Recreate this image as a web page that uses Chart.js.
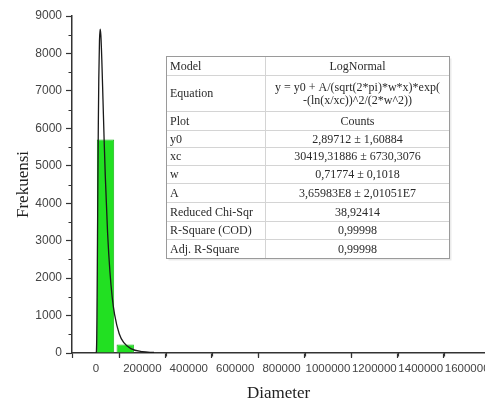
<!DOCTYPE html>
<html>
<head>
<meta charset="utf-8">
<script src="https://cdn.jsdelivr.net/npm/chart.js@4.4.1/dist/chart.umd.min.js"></script>
<style>
  html, body { margin: 0; padding: 0; background: #ffffff; }
  #c { display: block; }
</style>
</head>
<body>
<canvas id="c" width="485" height="402"></canvas>
<script>
// ---- data ----
const binCenters = [41000, 126000];
const binCounts = [5700, 230];

const fitX = [1000, 2000, 3000, 4000, 5000, 6000, 7000, 8000, 10000, 12000, 15000, 18000, 21000, 25000, 30000, 35000, 40000, 50000, 60000, 70000, 80000, 100000, 120000, 150000, 200000, 250000];
const fitY = [5, 80, 370, 940, 1720, 2630, 3580, 4500, 6120, 7320, 8350, 8650, 8480, 7840, 6780, 5700, 4730, 3200, 2170, 1480, 1030, 515, 275, 118, 35, 14];

const xMajorTicks = [0, 200000, 400000, 600000, 800000, 1000000, 1200000, 1400000, 1600000];
const xMinorTicks = [100000, 300000, 500000, 700000, 900000, 1100000, 1300000, 1500000];
const yMajorTicks = [0, 1000, 2000, 3000, 4000, 5000, 6000, 7000, 8000, 9000];
const yMinorTicks = [500, 1500, 2500, 3500, 4500, 5500, 6500, 7500, 8500];

const tableLabels = ["Model", "Equation", "Plot", "y0", "xc", "w", "A", "Reduced Chi-Sqr", "R-Square (COD)", "Adj. R-Square"];
const tableValues = [
  ["LogNormal"],
  ["y = y0 + A/(sqrt(2*pi)*w*x)*exp(", "-(ln(x/xc))^2/(2*w^2))"],
  ["Counts"],
  ["2,89712 \u00b1 1,60884"],
  ["30419,31886 \u00b1 6730,3076"],
  ["0,71774 \u00b1 0,1018"],
  ["3,65983E8 \u00b1 2,01051E7"],
  ["38,92414"],
  ["0,99998"],
  ["0,99998"]
];

const xAxisTitle = "Diameter";
const yAxisTitle = "Frekuensi";

// ---- plugins ----
const minorTicksPlugin = {
  id: 'minorTicks',
  afterDatasetsDraw(chart) {
    const ctx = chart.ctx;
    const xs = chart.scales.x, ys = chart.scales.y;
    const area = chart.chartArea;
    ctx.save();
    ctx.strokeStyle = '#333';
    ctx.lineWidth = 1.2;
    ctx.beginPath();
    xMinorTicks.forEach(v => {
      const px = Math.round(xs.getPixelForValue(v)) + 0.5;
      ctx.moveTo(px, area.bottom);
      ctx.lineTo(px, area.bottom + 3.5);
    });
    yMinorTicks.forEach(v => {
      const py = Math.round(ys.getPixelForValue(v)) + 0.5;
      ctx.moveTo(area.left, py);
      ctx.lineTo(area.left - 3.5, py);
    });
    ctx.stroke();
    ctx.restore();
  }
};

const tablePlugin = {
  id: 'fitTable',
  afterDraw(chart) {
    const ctx = chart.ctx;
    const left = 166.5, right = 449.5, divider = 265.5;
    const rowEdges = [56.5, 75.5, 111.5, 130.5, 147.5, 165.5, 183.5, 202.5, 221.5, 239.5, 258.5];
    ctx.save();
    // shadow
    ctx.fillStyle = 'rgba(0,0,0,0.08)';
    ctx.fillRect(left + 2, rowEdges[0] + 2, right - left, rowEdges[rowEdges.length - 1] - rowEdges[0]);
    ctx.fillStyle = '#ffffff';
    ctx.fillRect(left, rowEdges[0], right - left, rowEdges[rowEdges.length - 1] - rowEdges[0]);
    // inner lines
    ctx.strokeStyle = '#d4d4d4';
    ctx.lineWidth = 1;
    ctx.beginPath();
    for (let i = 1; i < rowEdges.length - 1; i++) {
      ctx.moveTo(left, rowEdges[i]);
      ctx.lineTo(right, rowEdges[i]);
    }
    ctx.moveTo(divider, rowEdges[0]);
    ctx.lineTo(divider, rowEdges[rowEdges.length - 1]);
    ctx.stroke();
    // outer border
    ctx.strokeStyle = '#9a9a9a';
    ctx.strokeRect(left, rowEdges[0], right - left, rowEdges[rowEdges.length - 1] - rowEdges[0]);
    // text
    ctx.fillStyle = '#2a2a2a';
    ctx.font = '12px "Liberation Serif", "Times New Roman", serif';
    ctx.textBaseline = 'middle';
    for (let i = 0; i < tableLabels.length; i++) {
      const top = rowEdges[i], bot = rowEdges[i + 1];
      const mid = (top + bot) / 2;
      ctx.textAlign = 'left';
      ctx.fillText(tableLabels[i], left + 3.5, mid + 0.5);
      ctx.textAlign = 'center';
      const vals = tableValues[i];
      const cx = (divider + right) / 2;
      if (vals.length === 1) {
        ctx.fillText(vals[0], cx, mid + 0.5);
      } else {
        const lh = 13;
        const start = mid - (vals.length - 1) * lh / 2;
        vals.forEach((t, k) => ctx.fillText(t, cx, start + k * lh + 0.5));
      }
    }
    ctx.restore();
  }
};

// ---- chart ----
const ctx = document.getElementById('c').getContext('2d');
new Chart(ctx, {
  type: 'bar',
  data: {
    datasets: [
      {
        type: 'line',
        label: 'LogNormal fit',
        data: fitX.map((x, i) => ({ x: x, y: fitY[i] })),
        borderColor: '#1a1a1a',
        borderWidth: 1.3,
        pointRadius: 0,
        fill: false,
        cubicInterpolationMode: 'monotone',
        order: 0
      },
      {
        type: 'bar',
        label: 'Counts',
        data: binCenters.map((x, i) => ({ x: x, y: binCounts[i] })),
        backgroundColor: '#22e022',
        borderColor: '#19b819',
        borderWidth: 1,
        barPercentage: 0.88,
        categoryPercentage: 1.0,
        order: 1
      }
    ]
  },
  options: {
    responsive: false,
    devicePixelRatio: 1,
    animation: false,
    layout: { padding: { top: 16, right: 0, bottom: 0, left: 0 } },
    plugins: {
      legend: { display: false },
      tooltip: { enabled: false },
      title: { display: false }
    },
    scales: {
      x: {
        type: 'linear',
        min: -103500,
        max: 1677000,
        offset: false,
        afterBuildTicks(scale) {
          scale.ticks = xMajorTicks.map(v => ({ value: v }));
        },
        afterFit(scale) {
          scale.height = 49;
          scale.paddingLeft = 0;
          scale.paddingRight = 0;
        },
        grid: {
          display: true,
          drawOnChartArea: false,
          drawTicks: true,
          tickLength: 5,
          tickColor: '#333',
          tickWidth: 1.2
        },
        border: { display: true, color: '#333', width: 1.5 },
        ticks: {
          autoSkip: false,
          maxRotation: 0,
          minRotation: 0,
          padding: 4,
          color: '#444',
          font: { family: '"Liberation Sans", Arial, sans-serif', size: 11.5 },
          callback: (v) => String(v)
        },
        title: {
          display: true,
          text: xAxisTitle,
          color: '#222',
          font: { family: '"Liberation Serif", "Times New Roman", serif', size: 17, lineHeight: 0.9 },
          padding: { top: 0, bottom: 1 }
        }
      },
      y: {
        type: 'linear',
        min: 0,
        max: 9000,
        afterBuildTicks(scale) {
          scale.ticks = yMajorTicks.map(v => ({ value: v }));
        },
        afterFit(scale) {
          scale.width = 72;
        },
        grid: {
          display: true,
          drawOnChartArea: false,
          drawTicks: true,
          tickLength: 6,
          tickColor: '#333',
          tickWidth: 1.2
        },
        border: { display: true, color: '#333', width: 1.5 },
        ticks: {
          autoSkip: false,
          padding: 4,
          color: '#444',
          font: { family: '"Liberation Sans", Arial, sans-serif', size: 12 },
          callback: (v) => String(v)
        },
        title: {
          display: true,
          text: yAxisTitle,
          color: '#222',
          font: { family: '"Liberation Serif", "Times New Roman", serif', size: 17 },
          padding: { top: 13, bottom: 0 }
        }
      }
    }
  },
  plugins: [minorTicksPlugin, tablePlugin]
});
</script>
</body>
</html>
